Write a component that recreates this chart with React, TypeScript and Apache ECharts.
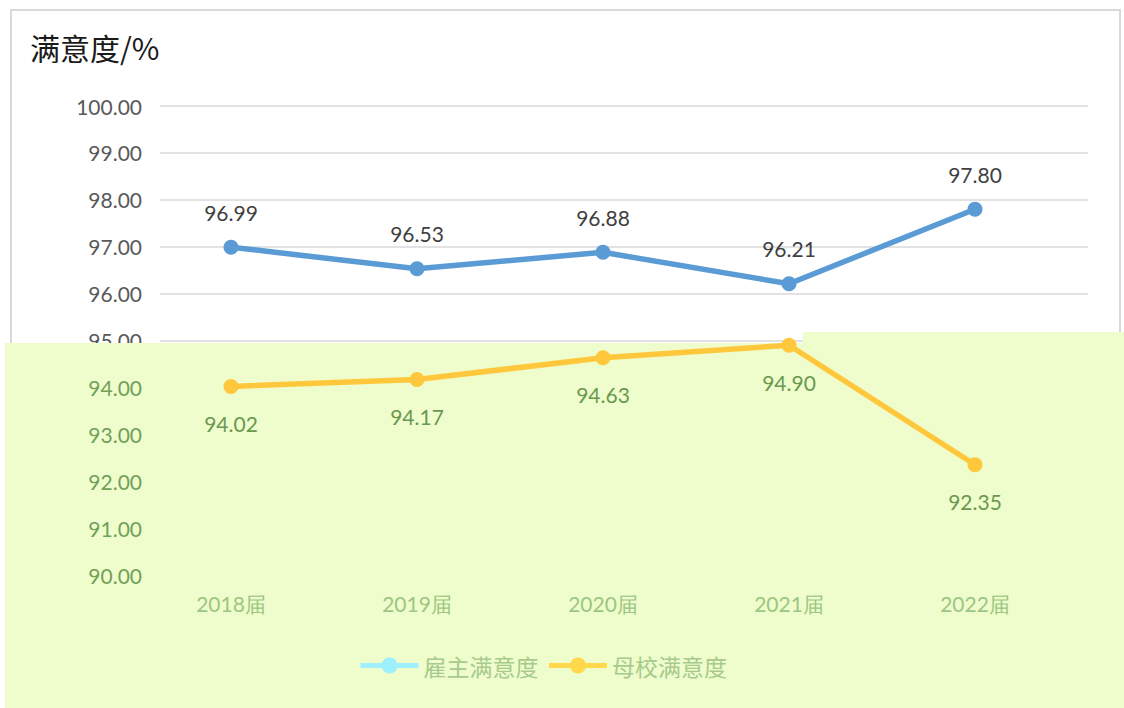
import React, { useEffect, useRef } from "react";
import * as echarts from "echarts";

const categories = ["2018届", "2019届", "2020届", "2021届", "2022届"];
const employerSat = [96.99, 96.53, 96.88, 96.21, 97.8];
const schoolSat = [94.02, 94.17, 94.63, 94.9, 92.35];
const seriesNames = ["雇主满意度", "母校满意度"];
const yTitle = "满意度/%";

const NUM_FONT = "Lato, 'Open Sans', sans-serif";
const CJK_FONT = "'Noto Sans CJK SC', sans-serif";

export default function App() {
  const ref = useRef<HTMLDivElement>(null);
  useEffect(() => {
    if (!ref.current) return;
    const chart = echarts.init(ref.current, null, { renderer: "svg" });
    chart.setOption({
      animation: false,
      backgroundColor: "#ffffff",
      grid: [
        { left: 160, right: 36, top: 106, bottom: 133 },
        { left: 231, right: 149, top: 106, bottom: 133 },
      ],
      xAxis: [
        { gridIndex: 0, type: "category", data: categories, show: false, z: 0 },
        {
          gridIndex: 1,
          type: "category",
          data: categories,
          boundaryGap: false,
          z: 2,
          axisLine: { show: false },
          axisTick: { show: false },
          axisLabel: {
            margin: 18,
            color: "#9cc682",
            fontSize: 21,
            fontFamily: NUM_FONT,
          },
        },
      ],
      yAxis: [
        {
          gridIndex: 0,
          type: "value",
          min: 90,
          max: 100,
          interval: 1,
          z: 0,
          axisLine: { show: false },
          axisTick: { show: false },
          splitLine: { lineStyle: { color: "#d9d9d9", width: 1.5 } },
          axisLabel: {
            margin: 18,
            fontSize: 21,
            fontFamily: NUM_FONT,
            formatter: (v: number) => v.toFixed(2),
            color: (v: any) => (Number(v) >= 95 ? "#595959" : "rgba(0,0,0,0)"),
          },
        },
        {
          gridIndex: 1,
          type: "value",
          min: 90,
          max: 100,
          interval: 1,
          z: 2,
          axisLine: { show: false },
          axisTick: { show: false },
          splitLine: { show: false },
          axisLabel: {
            margin: 18 + 71,
            fontSize: 21,
            fontFamily: NUM_FONT,
            formatter: (v: number) => v.toFixed(2),
            color: (v: any) => (Number(v) < 95 ? "#72a059" : "rgba(0,0,0,0)"),
          },
        },
      ],
      title: {
        text: yTitle,
        left: 25,
        top: 27,
        textStyle: { fontSize: 30, fontWeight: "normal", color: "#1a1a1a", fontFamily: CJK_FONT },
      },
      graphic: {
        elements: [
          {
            type: "rect",
            z: -1,
            silent: true,
            shape: { x: 11, y: 10, width: 1109, height: 720 },
            style: { fill: "none", stroke: "#d9d9d9", lineWidth: 2 },
          },
          {
            type: "rect",
            z: 1,
            silent: true,
            shape: { x: 5, y: 343, width: 1119, height: 365 },
            style: { fill: "#eefdcb" },
          },
          {
            type: "rect",
            z: 1,
            silent: true,
            shape: { x: 803, y: 332, width: 321, height: 12 },
            style: { fill: "#eefdcb" },
          },
        ],
      },
      legend: {
        left: 358,
        top: 654,
        padding: 0,
        itemWidth: 58,
        itemHeight: 20,
        itemGap: 8,
        z: 4,
        textStyle: { fontSize: 23, color: "#a8ca8c", fontFamily: CJK_FONT },
        data: [
          {
            name: seriesNames[0],
            itemStyle: { color: "#9ef0ff" },
            lineStyle: { color: "#9ef0ff", width: 5 },
          },
          {
            name: seriesNames[1],
            itemStyle: { color: "#ffd84c" },
            lineStyle: { color: "#ffd84c", width: 5 },
          },
        ],
      },
      series: [
        {
          name: seriesNames[0],
          type: "line",
          xAxisIndex: 1,
          yAxisIndex: 1,
          data: employerSat,
          z: 3,
          symbol: "circle",
          symbolSize: 15,
          color: "#5b9bd5",
          lineStyle: { width: 5.5, color: "#5b9bd5" },
          label: {
            show: true,
            position: "top",
            distance: 17,
            fontSize: 21,
            fontFamily: NUM_FONT,
            color: "#404040",
            formatter: (p: any) => Number(p.value).toFixed(2),
          },
        },
        {
          name: seriesNames[1],
          type: "line",
          xAxisIndex: 1,
          yAxisIndex: 1,
          data: schoolSat,
          z: 3,
          symbol: "circle",
          symbolSize: 15,
          color: "#ffc83c",
          lineStyle: { width: 5.5, color: "#ffc83c" },
          label: {
            show: true,
            position: "bottom",
            distance: 19,
            fontSize: 21,
            fontFamily: NUM_FONT,
            color: "#6a9850",
            formatter: (p: any) => Number(p.value).toFixed(2),
          },
        },
      ],
    });
    return () => chart.dispose();
  }, []);
  return (
    <div
      ref={ref}
      style={{ position: "fixed", left: 0, top: 0, width: 1124, height: 708 }}
    />
  );
}
